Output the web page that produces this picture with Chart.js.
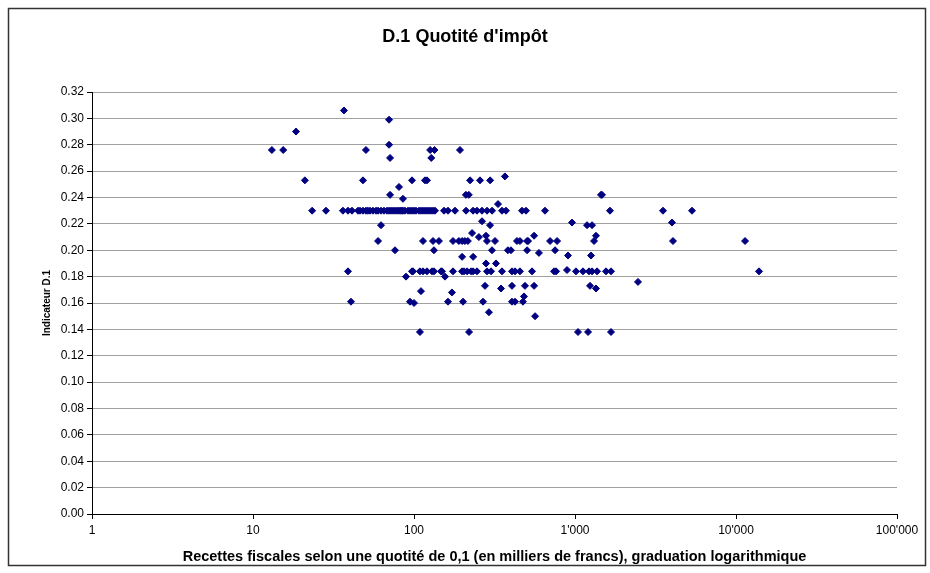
<!DOCTYPE html>
<html>
<head>
<meta charset="utf-8">
<title>D.1 Quotité d'impôt</title>
<script src="https://cdn.jsdelivr.net/npm/chart.js@4.4.0/dist/chart.umd.min.js"></script>
<style>
  body { margin: 0; background: #fff; }
  canvas { display: block; }
</style>
</head>
<body>
<canvas id="nuage" width="930" height="573"></canvas>
<script>
// Recettes fiscales (milliers de francs) et indicateur D.1
let recettes = [
    36.7, 70, 18.5, 70,
    13.1, 15.4, 50.3, 126, 134, 193,
    71, 128,
    367,
    21, 48.2, 97.2, 117, 120.4, 223, 257, 297,
    80.7,
    71, 210, 219, 1450, 1471,
    85.4, 332.5,
    23.3, 28.4, 36.2, 38.9, 41.2, 44.9, 46.2, 48.2, 50.3, 51.7, 53.3, 55.6, 58.1, 59.8,
    62.4, 65.1, 68, 70, 72, 74.1, 76.2, 78.5, 80.7, 82.5, 84.2, 85.4, 87.9, 91.8, 94.4,
    97.2, 100, 102.9, 107.4, 110.5, 113.7, 117, 120.4, 123.9, 127.5, 131.2, 135,
    153.6, 162.6, 179.8, 210.5, 232.8, 246.2, 264.5, 284.2, 305.4, 352, 372.7, 468.6,
    496.4, 651, 1649, 3520, 5330,
    264.5, 958, 4001,
    62.4, 296.7, 1188, 1276,
    229.5, 280, 557, 1350, 253,
    59.8, 113.7, 131.2, 142.9, 174.7, 190, 199, 207, 216, 284, 318.5, 436, 455, 504,
    511, 700, 774, 1313, 4060, 11380,
    76.2, 133, 305, 383, 400, 504, 752,
    597, 905, 1258, 199, 233, 280, 323,
    38.9, 97.2, 98.6, 108.9, 113.7, 120.4, 129.4, 133.1, 147.1, 149.2, 174.7, 198.7,
    204.5, 213.6, 226.2, 232.8, 246.2, 284.2, 301, 352, 406, 424, 455, 541, 741, 763,
    892, 1014, 1121, 1222, 1276, 1371, 1558, 1674, 13900,
    89.2, 155.8, 2462,
    276, 406, 489, 557, 1240, 347, 1350,
    110.5, 172, 482,
    40.6, 94.4, 100, 162.6, 201.6, 268.3, 406, 424, 475,
    292, 565,
    108.9, 219.7, 1044, 1205, 1674
];

let indicateur = [
    0.306, 0.299, 0.290, 0.280,
    0.276, 0.276, 0.276, 0.276, 0.276, 0.276,
    0.270, 0.270,
    0.256,
    0.253, 0.253, 0.253, 0.253, 0.253, 0.253, 0.253, 0.253,
    0.248,
    0.242, 0.242, 0.242, 0.242, 0.242,
    0.239, 0.235,
    0.230, 0.230, 0.230, 0.230, 0.230, 0.230, 0.230, 0.230, 0.230, 0.230, 0.230, 0.230, 0.230, 0.230,
    0.230, 0.230, 0.230, 0.230, 0.230, 0.230, 0.230, 0.230, 0.230, 0.230, 0.230, 0.230, 0.230, 0.230, 0.230,
    0.230, 0.230, 0.230, 0.230, 0.230, 0.230, 0.230, 0.230, 0.230, 0.230, 0.230, 0.230,
    0.230, 0.230, 0.230, 0.230, 0.230, 0.230, 0.230, 0.230, 0.230, 0.230, 0.230, 0.230,
    0.230, 0.230, 0.230, 0.230, 0.230,
    0.222, 0.221, 0.221,
    0.219, 0.219, 0.219, 0.219,
    0.213, 0.211, 0.211, 0.211, 0.210,
    0.207, 0.207, 0.207, 0.207, 0.207, 0.207, 0.207, 0.207, 0.207, 0.207, 0.207, 0.207, 0.207, 0.207,
    0.207, 0.207, 0.207, 0.207, 0.207, 0.207,
    0.200, 0.200, 0.200, 0.200, 0.200, 0.200, 0.200,
    0.198, 0.196, 0.196, 0.195, 0.195, 0.190, 0.190,
    0.184, 0.184, 0.184, 0.184, 0.184, 0.184, 0.184, 0.184, 0.184, 0.184, 0.184, 0.184,
    0.184, 0.184, 0.184, 0.184, 0.184, 0.184, 0.184, 0.184, 0.184, 0.184, 0.184, 0.184, 0.184, 0.184,
    0.185, 0.184, 0.184, 0.184, 0.184, 0.184, 0.184, 0.184, 0.184,
    0.180, 0.180, 0.176,
    0.173, 0.173, 0.173, 0.173, 0.173, 0.171, 0.171,
    0.169, 0.168, 0.165,
    0.161, 0.161, 0.160, 0.161, 0.161, 0.161, 0.161, 0.161, 0.161,
    0.153, 0.150,
    0.138, 0.138, 0.138, 0.138, 0.138
];

let decades = [1, 10, 100, 1000, 10000, 100000];

const police = 'Arial, "Liberation Sans", sans-serif';

// Cadre autour du graphique
const cadre = {
    id: 'cadre',
    afterDraw(chart) {
        const ctx = chart.ctx;
        ctx.save();
        ctx.strokeStyle = '#333';
        ctx.lineWidth = 1.5;
        ctx.strokeRect(8.5, 8.5, 917, 557);
        ctx.restore();
    }
};

function formatMilliers(v) {
    return v.toString().replace(/\B(?=(\d{3})+(?!\d))/g, "'");
}

new Chart(document.getElementById('nuage'), {
    type: 'scatter',
    data: {
        datasets: [{
            data: recettes.map((x, i) => ({ x: x, y: indicateur[i] })),
            backgroundColor: '#000080',
            borderColor: '#000080',
            borderWidth: 1,
            pointStyle: 'rectRot',
            pointRadius: 3.5,
            pointHoverRadius: 3.5
        }]
    },
    options: {
        responsive: false,
        animation: false,
        devicePixelRatio: 1,
        layout: { padding: 0 },
        plugins: {
            legend: { display: false },
            tooltip: { enabled: false },
            title: {
                display: true,
                text: "D.1 Quotité d'impôt",
                color: '#000',
                font: { family: police, size: 18, weight: 'bold' },
                padding: { top: 26.2, bottom: 44.2 }
            }
        },
        scales: {
            x: {
                type: 'logarithmic',
                min: 1,
                max: 100000,
                afterBuildTicks: (s) => { s.ticks = decades.map(v => ({ value: v })); },
                afterFit: (s) => { s.height = 59; },
                ticks: {
                    autoSkip: false,
                    maxRotation: 0,
                    padding: 4,
                    color: '#000',
                    font: { family: police, size: 12 },
                    callback: (v) => formatMilliers(v)
                },
                grid: { drawOnChartArea: false, tickLength: 5, tickColor: '#000' },
                border: { color: '#000', width: 1 },
                title: {
                    display: true,
                    text: 'Recettes fiscales selon une quotité de 0,1 (en milliers de francs), graduation logarithmique',
                    color: '#000',
                    font: { family: police, size: 14.5, weight: 'bold' },
                    padding: { top: 0, bottom: 7.3 }
                }
            },
            y: {
                min: 0,
                max: 0.32,
                afterFit: (s) => { s.width = 92; },
                ticks: {
                    stepSize: 0.02,
                    padding: 3,
                    color: '#000',
                    font: { family: police, size: 12 },
                    callback: (v) => v.toFixed(2)
                },
                grid: { color: '#a0a0a0', tickLength: 5, tickColor: '#000' },
                border: { color: '#000', width: 1 },
                title: {
                    display: true,
                    text: 'Indicateur D.1',
                    color: '#000',
                    font: { family: police, size: 10, weight: 'bold' },
                    padding: { top: 41, bottom: 0 }
                }
            },
            // marge droite vide, pour garder le titre centré sur le cadre
            marge: {
                type: 'linear',
                position: 'right',
                afterFit: (s) => { s.width = 33; },
                ticks: { display: false },
                grid: { display: false },
                border: { display: false }
            }
        }
    },
    plugins: [cadre]
});
</script>
</body>
</html>
